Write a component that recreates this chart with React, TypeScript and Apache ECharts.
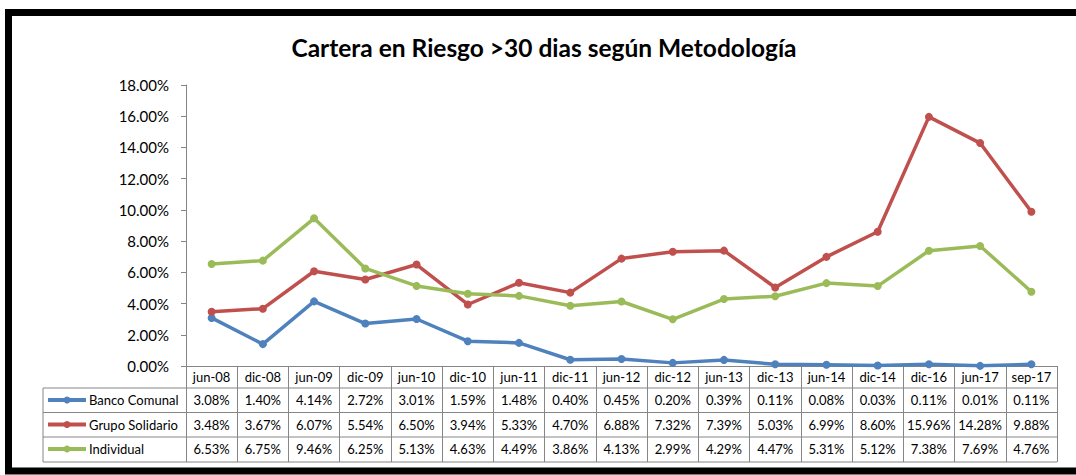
import React, { useEffect, useRef } from "react";
import * as echarts from "echarts";

const categories = ["jun-08","dic-08","jun-09","dic-09","jun-10","dic-10","jun-11","dic-11","jun-12","dic-12","jun-13","dic-13","jun-14","dic-14","dic-16","jun-17","sep-17"];
const bancoComunal = [3.08,1.40,4.14,2.72,3.01,1.59,1.48,0.40,0.45,0.20,0.39,0.11,0.08,0.03,0.11,0.01,0.11];
const grupoSolidario = [3.48,3.67,6.07,5.54,6.50,3.94,5.33,4.70,6.88,7.32,7.39,5.03,6.99,8.60,15.96,14.28,9.88];
const individual = [6.53,6.75,9.46,6.25,5.13,4.63,4.49,3.86,4.13,2.99,4.29,4.47,5.31,5.12,7.38,7.69,4.76];
const seriesNames = ["Banco Comunal", "Grupo Solidario", "Individual"];
const colors = ["#4F81BD", "#C0504D", "#9BBB59"];
const yMax = 18;
const yInterval = 2;

const FONT = "Lato";
const GRAY = "#868686";

export default function App() {
  const ref = useRef<HTMLDivElement>(null);
  useEffect(() => {
    if (!ref.current) return;
    const chart = echarts.init(ref.current, undefined, { renderer: "svg" });
    const fmt = (v: number) => v.toFixed(2) + "%";
    const gridTop = 85, gridBottomY = 366, gridLeft = 186, gridRight = 1057;
    const rowLines = [388, 412.5, 437, 462];
    const valueRows = [bancoComunal, grupoSolidario, individual];
    const rowOffsets = [23, 47.5, 72];

    const valueAxes = valueRows.map((vals, i) => ({
      type: "category",
      gridIndex: 0,
      position: "bottom",
      offset: rowOffsets[i],
      data: vals.map(fmt),
      axisLine: { show: false },
      axisTick: { show: false },
      axisLabel: { interval: 0, margin: 11, verticalAlign: "middle", fontFamily: FONT, fontSize: 13, color: "#000" },
    }));

    const legendItems: any[] = [];
    seriesNames.forEach((name, i) => {
      const cy = gridBottomY + rowOffsets[i] + 11;
      legendItems.push(
        { type: "line", shape: { x1: 48, y1: cy, x2: 86, y2: cy }, style: { stroke: colors[i], lineWidth: 4 }, silent: true },
        { type: "circle", shape: { cx: 67, cy, r: 3.5 }, style: { fill: colors[i] }, silent: true },
        {
          type: "text",
          x: 89,
          y: cy,
          style: { text: name, fontFamily: FONT, fontSize: 13, fill: "#000", verticalAlign: "middle", align: "left" },
          silent: true,
        }
      );
    });

    const graphic: any[] = [
      {
        type: "rect",
        shape: { x: 8.5, y: 12.5, width: 1200, height: 458.5 },
        style: { fill: "none", stroke: "#000", lineWidth: 7 },
        silent: true,
      },
      ...rowLines.map((y) => ({
        type: "line",
        shape: { x1: 43, y1: y, x2: gridRight, y2: y },
        style: { stroke: GRAY, lineWidth: 1 },
        silent: true,
      })),
      {
        type: "line",
        shape: { x1: 43, y1: rowLines[0], x2: 43, y2: rowLines[3] },
        style: { stroke: GRAY, lineWidth: 1 },
        silent: true,
      },
      ...legendItems,
    ];

    chart.setOption({
      animation: false,
      backgroundColor: "#fff",
      title: {
        text: "Cartera en Riesgo >30 dias según Metodología",
        left: 539,
        textAlign: "center",
        top: 30,
        textStyle: { fontFamily: FONT, fontWeight: "bold", fontSize: 24.5, color: "#000" },
      },
      grid: { left: gridLeft, right: 1076 - gridRight, top: gridTop, bottom: 475 - gridBottomY, containLabel: false },
      xAxis: [
        {
          type: "category",
          data: categories,
          boundaryGap: true,
          axisLine: { lineStyle: { color: GRAY, width: 1 } },
          axisTick: { show: true, length: 96, interval: 0, lineStyle: { color: GRAY, width: 1 } },
          axisLabel: { interval: 0, margin: 11, verticalAlign: "middle", fontFamily: FONT, fontSize: 13, color: "#000" },
        },
        ...valueAxes,
      ],
      yAxis: {
        type: "value",
        min: 0,
        max: yMax,
        interval: yInterval,
        axisLine: { show: true, lineStyle: { color: GRAY, width: 1 } },
        axisTick: { show: true, length: 5, lineStyle: { color: GRAY } },
        splitLine: { show: false },
        axisLabel: { formatter: (v: number) => v.toFixed(2) + "%", margin: 17, fontFamily: FONT, fontSize: 15, color: "#000" },
      },
      series: [bancoComunal, grupoSolidario, individual].map((d, i) => ({
        name: seriesNames[i],
        type: "line",
        data: d,
        symbol: "circle",
        symbolSize: 8,
        lineStyle: { color: colors[i], width: 3.5 },
        itemStyle: { color: colors[i] },
      })),
      graphic,
    });
    return () => chart.dispose();
  }, []);
  return <div ref={ref} style={{ position: "fixed", left: 0, top: 0, width: 1076, height: 475 }} />;
}
